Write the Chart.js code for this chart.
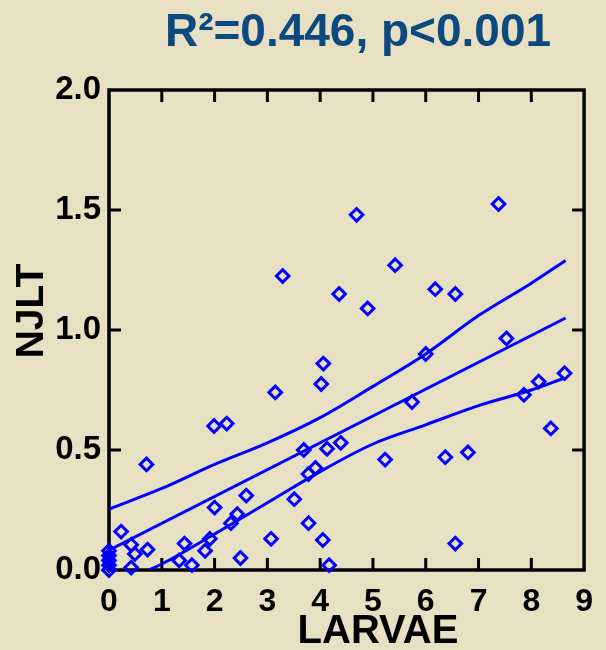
<!DOCTYPE html>
<html>
<head>
<meta charset="utf-8">
<script src="https://cdn.jsdelivr.net/npm/chart.js@4"></script>
<style>
  html,body{margin:0;padding:0;background:#e8e0c2;}
  #wrap{width:606px;height:650px;position:relative;}
</style>
</head>
<body>
<div id="wrap"><canvas id="c"></canvas></div>
<script>
// scatter data: LARVAE vs NJLT
const larvae = [0,0,0,0,0,0.23,0.42,0.49,0.42,0.73,0.71,1.33,1.43,1.57,1.82,1.91,1.99,2.0,2.23,2.31,2.43,2.49,2.6,
  3.07,3.15,3.29,3.51,3.69,3.78,3.78,3.91,4.02,4.06,4.05,4.13,4.17,4.36,4.39,4.69,4.9,5.23,5.42,5.74,6.0,6.18,
  6.37,6.56,6.56,6.8,7.38,7.53,7.86,8.14,8.37,8.63];
const njlt = [0.08,0.06,0.04,0.02,0.0,0.16,0.105,0.067,0.01,0.085,0.44,0.04,0.11,0.02,0.08,0.13,0.6,0.26,0.61,0.195,0.233,0.05,0.31,
  0.13,0.74,1.225,0.295,0.5,0.4,0.195,0.425,0.775,0.86,0.125,0.505,0.02,1.15,0.53,1.48,1.09,0.46,1.27,0.7,0.9,1.17,
  0.47,1.15,0.11,0.49,1.525,0.965,0.73,0.785,0.59,0.82];

// regression line and 95% band
const fitX = [0, 8.65];
const fitY = [0.083, 1.05];
const upperX = [0,1,2,3,4,5,6,7,8,8.65];
const upperY = [0.254,0.34,0.44,0.53,0.635,0.765,0.90,1.06,1.195,1.29];
const lowerX = [0.75,1,2,3,4,5,6,7,8,8.63];
const lowerY = [0,0.025,0.15,0.28,0.41,0.525,0.605,0.685,0.75,0.80];

const xTicks = [0,1,2,3,4,5,6,7,8,9];
const yTicks = [0,0.5,1.0,1.5,2.0];

const titleText = 'R\u00B2=0.446, p<0.001';
const xTitle = 'LARVAE';
const yTitle = 'NJLT';

const pts = (xs, ys) => xs.map((x,i)=>({x, y:ys[i]}));
const FONT = "'Liberation Sans', Arial, sans-serif";
const BLUE = '#0000ff';

const decor = {
  id:'decor',
  beforeDraw(chart){
    const ctx = chart.ctx;
    ctx.save();
    ctx.fillStyle = '#e8e0c2';
    ctx.fillRect(0,0,chart.width,chart.height);
    ctx.restore();
  },
  beforeDatasetsDraw(chart){
    const {ctx, chartArea:a, scales:{x, y}} = chart;
    ctx.save();
    // frame
    ctx.strokeStyle = '#000';
    ctx.lineWidth = 3.5;
    ctx.strokeRect(a.left, a.top, a.right-a.left, a.bottom-a.top);
    // inward ticks
    ctx.lineWidth = 3;
    const len = 12;
    xTicks.slice(1,-1).forEach(v=>{
      const px = x.getPixelForValue(v);
      ctx.beginPath();
      ctx.moveTo(px, a.bottom); ctx.lineTo(px, a.bottom-len);
      ctx.moveTo(px, a.top); ctx.lineTo(px, a.top+len);
      ctx.stroke();
    });
    yTicks.slice(1,-1).forEach(v=>{
      const py = y.getPixelForValue(v);
      ctx.beginPath();
      ctx.moveTo(a.left, py); ctx.lineTo(a.left+len, py);
      ctx.moveTo(a.right, py); ctx.lineTo(a.right-len, py);
      ctx.stroke();
    });
    ctx.restore();
  },
  afterDraw(chart){
    const ctx = chart.ctx;
    ctx.save();
    // titles
    ctx.fillStyle = '#0b497f';
    ctx.font = 'bold 46px ' + FONT;
    ctx.textAlign = 'center';
    ctx.textBaseline = 'middle';
    ctx.fillText(titleText, 358, 33);
    ctx.fillStyle = '#000';
    ctx.font = 'bold 40px ' + FONT;
    ctx.fillText(xTitle, 378, 632);
    ctx.font = 'bold 39px ' + FONT;
    ctx.translate(32, 311);
    ctx.rotate(-Math.PI/2);
    ctx.fillText(yTitle, 0, 0);
    ctx.restore();
  }
};

new Chart(document.getElementById('c'), {
  type:'scatter',
  data:{
    datasets:[
      {label:'data', data:pts(larvae,njlt), pointStyle:'rectRot', pointRadius:6.3, borderColor:BLUE,
       backgroundColor:'transparent', borderWidth:3, showLine:false, clip:false},
      {label:'fit', data:pts(fitX,fitY), showLine:true, borderColor:BLUE, borderWidth:3, pointRadius:0},
      {label:'upper', data:pts(upperX,upperY), showLine:true, borderColor:BLUE, borderWidth:3, pointRadius:0, cubicInterpolationMode:'monotone'},
      {label:'lower', data:pts(lowerX,lowerY), showLine:true, borderColor:BLUE, borderWidth:3, pointRadius:0, cubicInterpolationMode:'monotone'}
    ]
  },
  options:{
    responsive:true,
    maintainAspectRatio:false,
    animation:false,
    layout:{padding:{top:90, right:14, left:0, bottom:0}},
    plugins:{legend:{display:false}, tooltip:{enabled:false}, title:{display:false}},
    scales:{
      x:{min:0, max:9,
         afterBuildTicks:s=>{ s.ticks = xTicks.map(v=>({value:v})); },
         afterFit:s=>{ s.height = 80; },
         grid:{display:false, drawTicks:false}, border:{display:false},
         ticks:{color:'#000', font:{family:FONT, size:32, weight:'bold'}, padding:13, maxRotation:0}},
      y:{min:0, max:2,
         afterBuildTicks:s=>{ s.ticks = yTicks.map(v=>({value:v})); },
         afterFit:s=>{ s.width = 109; },
         grid:{display:false, drawTicks:false}, border:{display:false},
         ticks:{color:'#000', font:{family:FONT, size:33, weight:'bold'}, padding:8,
                callback:v=>Number(v).toFixed(1)}}
    }
  },
  plugins:[decor]
});
</script>
</body>
</html>
